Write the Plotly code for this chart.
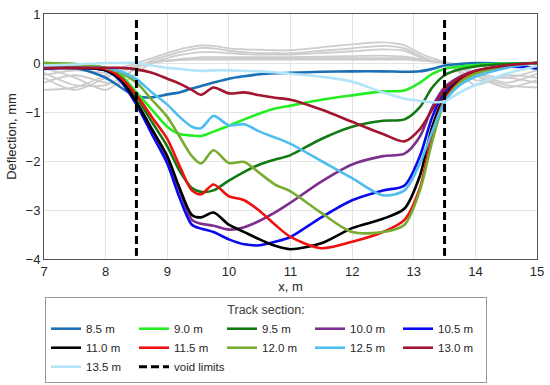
import plotly.graph_objects as go

X = [7, 7.5, 8, 8.25, 8.5, 8.75, 9, 9.2, 9.4, 9.55, 9.75, 10, 10.25, 10.5, 10.75,
     11, 11.5, 12, 12.5, 12.85, 13.1, 13.3, 13.5, 13.75, 14, 14.5, 15]

names = ["8.5 m", "9.0 m", "9.5 m", "10.0 m", "10.5 m", "11.0 m", "11.5 m",
         "12.0 m", "12.5 m", "13.0 m", "13.5 m"]
colors = ["#1a6fb5", "#22ee22", "#137a13", "#7e2f8e", "#0a0af0", "#000000",
          "#f01010", "#77ac30", "#4dbeee", "#a2142f", "#b3e5f8"]

y_85 = [-0.12, -0.1, -0.3, -0.5, -0.68, -0.7, -0.64, -0.6, -0.52, -0.47, -0.4, -0.32, -0.27, -0.23, -0.21,
        -0.2, -0.18, -0.17, -0.17, -0.18, -0.17, -0.12, -0.05, -0.02, 0.0, -0.02, -0.12]
y_90 = [0.0, -0.02, -0.1, -0.25, -0.6, -0.95, -1.3, -1.45, -1.48, -1.49, -1.4, -1.28, -1.15, -1.03, -0.93,
        -0.87, -0.75, -0.66, -0.58, -0.56, -0.4, -0.22, -0.12, -0.07, -0.04, -0.01, 0.0]
y_95 = [-0.1, -0.08, -0.12, -0.3, -0.7, -1.2, -1.7, -2.2, -2.55, -2.63, -2.6, -2.4, -2.22, -2.07, -1.97,
        -1.88, -1.55, -1.3, -1.18, -1.15, -0.9, -0.5, -0.25, -0.13, -0.07, -0.02, 0.0]
y_100 = [-0.1, -0.1, -0.15, -0.35, -0.8, -1.35, -1.95, -2.6, -3.2, -3.28, -3.32, -3.4, -3.35, -3.22, -3.05,
         -2.85, -2.42, -2.07, -1.9, -1.85, -1.5, -0.9, -0.5, -0.28, -0.16, -0.05, 0.0]
y_105 = [-0.12, -0.1, -0.15, -0.38, -0.85, -1.45, -2.05, -2.75, -3.3, -3.38, -3.45, -3.6, -3.7, -3.72, -3.65,
         -3.55, -3.15, -2.8, -2.6, -2.5, -1.9, -1.1, -0.6, -0.32, -0.18, -0.08, -0.1]
y_110 = [-0.1, -0.1, -0.15, -0.35, -0.8, -1.35, -1.9, -2.55, -3.1, -3.15, -3.05, -3.3, -3.45, -3.6, -3.73,
         -3.8, -3.68, -3.37, -3.18, -2.97, -2.3, -1.3, -0.7, -0.35, -0.2, -0.06, 0.0]
y_115 = [-0.1, -0.1, -0.12, -0.3, -0.65, -1.1, -1.55, -2.1, -2.6, -2.68, -2.48, -2.72, -2.8, -3.02, -3.3,
         -3.55, -3.78, -3.65, -3.45, -3.2, -2.55, -1.45, -0.75, -0.38, -0.2, -0.06, 0.0]
y_120 = [0.0, -0.02, -0.1, -0.2, -0.4, -0.75, -1.1, -1.5, -1.9, -2.05, -1.78, -2.04, -2.02, -2.25, -2.48,
         -2.62, -3.06, -3.45, -3.45, -3.3, -2.6, -1.6, -0.8, -0.4, -0.22, -0.07, 0.0]
y_125 = [-0.1, -0.1, -0.1, -0.18, -0.33, -0.6, -0.85, -1.1, -1.3, -1.33, -1.08, -1.27, -1.25, -1.4, -1.52,
         -1.65, -2.0, -2.35, -2.7, -2.6, -2.05, -1.4, -0.8, -0.45, -0.28, -0.1, 0.0]
y_130 = [-0.1, -0.1, -0.1, -0.1, -0.13, -0.2, -0.32, -0.42, -0.55, -0.65, -0.5, -0.62, -0.6, -0.66, -0.71,
         -0.75, -0.95, -1.2, -1.45, -1.6, -1.35, -0.95, -0.55, -0.3, -0.16, -0.05, 0.0]
y_135 = [-0.05, -0.03, 0.0, 0.0, 0.0, -0.05, -0.1, -0.12, -0.15, -0.16, -0.15, -0.15, -0.16, -0.17, -0.19,
         -0.22, -0.28, -0.38, -0.6, -0.73, -0.77, -0.8, -0.78, -0.6, -0.45, -0.22, -0.06]
series = [y_85, y_90, y_95, y_100, y_105, y_110, y_115, y_120, y_125, y_130, y_135]

grey_1 = [-0.55, -0.5, -0.25, -0.1, 0.0, 0.1, 0.2, 0.28, 0.33, 0.36, 0.35, 0.3, 0.28, 0.27, 0.26,
          0.26, 0.32, 0.38, 0.42, 0.36, 0.2, 0.1, 0.02, -0.1, -0.25, -0.45, -0.5]
grey_2 = [-0.2, -0.45, -0.45, -0.3, -0.1, 0.05, 0.15, 0.22, 0.28, 0.31, 0.3, 0.25, 0.22, 0.2, 0.2,
          0.2, 0.25, 0.3, 0.35, 0.3, 0.15, 0.05, 0.0, -0.05, -0.2, -0.4, -0.22]
grey_3 = [-0.4, -0.25, -0.4, -0.42, -0.2, 0.0, 0.1, 0.16, 0.2, 0.22, 0.22, 0.2, 0.18, 0.17, 0.17,
          0.17, 0.2, 0.24, 0.28, 0.25, 0.12, 0.04, 0.0, -0.15, -0.35, -0.3, -0.4]
grey_4 = [-0.3, -0.55, -0.3, -0.15, -0.05, 0.0, 0.05, 0.08, 0.1, 0.12, 0.12, 0.12, 0.12, 0.12, 0.12,
          0.12, 0.13, 0.14, 0.15, 0.13, 0.08, 0.03, 0.0, -0.2, -0.45, -0.25, -0.3]
grey_5 = [-0.1, -0.3, -0.55, -0.35, -0.1, 0.0, 0.04, 0.06, 0.08, 0.08, 0.08, 0.08, 0.09, 0.1, 0.1,
          0.1, 0.1, 0.1, 0.1, 0.1, 0.08, 0.04, 0.02, -0.05, -0.25, -0.5, -0.35]
grey_6 = [-0.25, -0.15, -0.2, -0.2, -0.05, 0.02, 0.05, 0.06, 0.07, 0.07, 0.07, 0.07, 0.07, 0.07, 0.07,
          0.07, 0.07, 0.07, 0.07, 0.07, 0.05, 0.03, 0.01, -0.1, -0.2, -0.3, -0.15]
greys = [grey_1, grey_2, grey_3, grey_4, grey_5, grey_6]

void_x = [8.5, 13.5]
void_top, void_bottom = 0.88, -3.97

fig = go.Figure()
for g in greys:
    fig.add_trace(go.Scatter(x=X, y=g, mode="lines", showlegend=False, hoverinfo="skip",
                             line=dict(color="#cccccc", width=1.8, shape="spline", smoothing=0.8)))
for name, col, ys in zip(names, colors, series):
    fig.add_trace(go.Scatter(x=X, y=ys, mode="lines", name=name,
                             line=dict(color=col, width=2.6, shape="spline", smoothing=0.8)))
vx, vy = [], []
for v in void_x:
    vx += [v, v, None]
    vy += [void_top, void_bottom, None]
fig.add_trace(go.Scatter(x=vx, y=vy, mode="lines", name="void limits",
                         line=dict(color="black", width=3, dash="8px,4px")))

font = "Liberation Sans, Arial, sans-serif"
fig.update_layout(
    width=550, height=385,
    margin=dict(l=44, r=13, t=14, b=126, autoexpand=False),
    paper_bgcolor="white", plot_bgcolor="white",
    font=dict(family=font, size=13, color="#262626"),
    xaxis=dict(range=[7, 15], dtick=1, showgrid=True, gridcolor="#e3e3e3", gridwidth=1,
               showline=True, linecolor="#555555", linewidth=1, mirror=True,
               ticks="outside", ticklen=0, zeroline=False,
               title=dict(text="x, m", standoff=2, font=dict(size=13))),
    yaxis=dict(range=[-4, 1], dtick=1, showgrid=True, gridcolor="#e3e3e3", gridwidth=1,
               showline=True, linecolor="#555555", linewidth=1, mirror=True,
               ticks="outside", ticklen=0, zeroline=False,
               title=dict(text="Deflection, mm", standoff=6, font=dict(size=13))),
    legend=dict(orientation="h", x=0.002, xanchor="left", y=-0.155, yanchor="top",
                bordercolor="#999999", borderwidth=1, bgcolor="white",
                entrywidth=43, entrywidthmode="pixels", tracegroupgap=0,
                font=dict(size=11.5, color="#262626"),
                title=dict(text="Track section:", side="top center", font=dict(size=12.5, color="#404040"))),
)
fig.write_html("out.html", config={"displayModeBar": False},
               post_script="document.body.style.margin='0';")
